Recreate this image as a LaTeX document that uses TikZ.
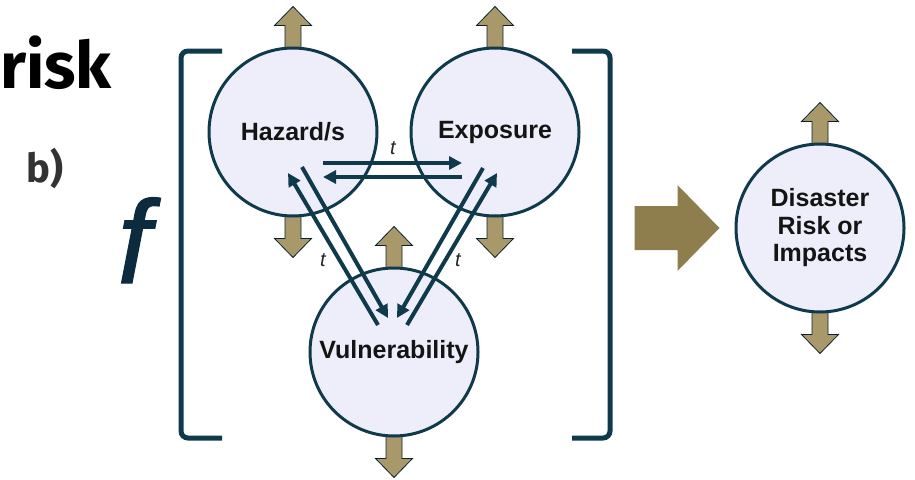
\documentclass[tikz,border=0pt]{standalone}
\usepackage{fontspec}
\setmainfont{Liberation Sans}
\newfontfamily\fsans{Fira Sans}
\newfontfamily\ffont[ItalicFeatures={FakeBold=1.0}]{Liberation Sans}
\usetikzlibrary{arrows.meta,calc,backgrounds}
\definecolor{navy}{HTML}{0E3A4C}
\definecolor{lav}{HTML}{EEEEFA}
\definecolor{tanc}{HTML}{A8986A}
\definecolor{bigtan}{HTML}{8E7D4D}
\definecolor{ftxt}{HTML}{0D2B3E}
\begin{document}
\begin{tikzpicture}[x=1pt,y=-1pt,
  circ/.style={circle,draw=navy,line width=3pt,fill=lav,minimum size=168pt,inner sep=0pt,
    font=\fontsize{25}{27.5}\selectfont\bfseries,align=center,text=black!92},
  conn/.style={draw=navy,line width=4pt,-{Triangle[length=13pt,width=13pt]}},
  brk/.style={draw=navy,line width=5pt,rounded corners=7pt},
  blk/.style={fill=tanc,draw=navy!60!black,line width=0.8pt},
  tlab/.style={font=\fontsize{20}{20}\selectfont\itshape,text=black!85,inner sep=0pt},
  uparr/.pic={\path[blk] (-8,6) -- (-8,-21) -- (-18.5,-21) -- (0,-40) -- (18.5,-21) -- (8,-21) -- (8,6) -- cycle;},
  dnarr/.pic={\path[blk] (-8,-6) -- (-8,21) -- (-18.5,21) -- (0,40) -- (18.5,21) -- (8,21) -- (8,-6) -- cycle;}
]
\useasboundingbox (0,0) rectangle (915,479);

% titles
\node[anchor=base west,inner sep=0pt,font=\fsans\fontsize{65}{65}\selectfont\bfseries] (risk) at (0,88) {risk};
\node[anchor=base west,inner sep=0pt,text=black!80,font=\fsans\fontsize{40}{40}\selectfont\bfseries] (lb) at (26,182) {b)};
\node[anchor=base,inner sep=0pt,text=ftxt,font=\ffont\fontsize{118}{118}\selectfont\itshape] (f) at (134,283) {f};

% brackets
\draw[brk] (222,51) -- (181,51) -- (181,438) -- (222,438);
\draw[brk] (572,51) -- (610,51) -- (610,438) -- (572,438);

% circles
\node[circ] (haz) at (293,132) {Hazard/s};
\node[circ] (exp) at (495,132) {Exposure};
\node[circ] (vul) at (394,352) {Vulnerability};
\node[circ] (dis) at (820,228) {Disaster\\Risk or\\Impacts};

% block arrows behind circles
\begin{scope}[on background layer]
  \foreach \n in {haz,exp,vul,dis}{
    \pic at (\n.north) {uparr};
    \pic at (\n.south) {dnarr};
  }
\end{scope}

% big arrow
\path[fill=bigtan] ($(dis.west)+(-100,-22)$) -- ($(dis.west)+(-57,-22)$) -- ($(dis.west)+(-57,-43)$)
  -- ($(dis.west)+(-15,0)$) -- ($(dis.west)+(-57,43)$) -- ($(dis.west)+(-57,22)$)
  -- ($(dis.west)+(-100,22)$) -- cycle;

% connectors
\draw[conn] ($(haz.center)+(30,31)$) -- ($(exp.center)+(-33,31)$);
\draw[conn] ($(exp.center)+(-33,45)$) -- ($(haz.center)+(30,45)$);
\draw[conn] ($(haz.center)+(9,35)$) -- ($(vul.center)+(-6,-34)$);
\draw[conn] ($(vul.center)+(-16,-27)$) -- ($(haz.center)+(-5,41)$);
\draw[conn] ($(exp.center)+(-12,36)$) -- ($(vul.center)+(3,-34)$);
\draw[conn] ($(vul.center)+(13,-27)$) -- ($(exp.center)+(2,41)$);

% t labels
\node[tlab] (t1) at (393,148) {t};
\node[tlab] (t2) at (323,260) {t};
\node[tlab] (t3) at (458,260) {t};
\end{tikzpicture}
\end{document}
